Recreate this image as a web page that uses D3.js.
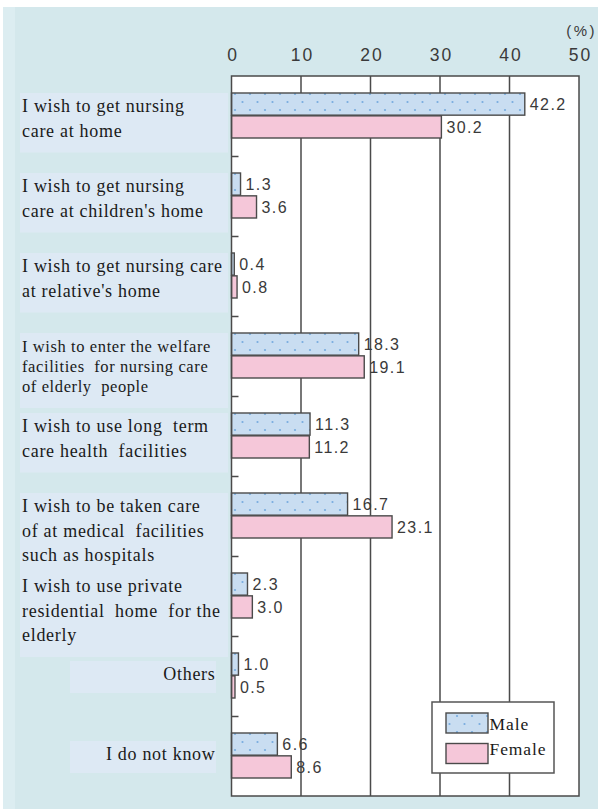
<!DOCTYPE html>
<html>
<head>
<meta charset="utf-8">
<script src="https://cdn.jsdelivr.net/npm/d3@7"></script>
<style>
  html, body { margin: 0; padding: 0; background: #ffffff; }
  svg { display: block; }
</style>
</head>
<body>
<script>
// Where people wish to receive nursing care, by sex (%)
const categories = [
  ["I wish to get nursing", "care at home"],
  ["I wish to get nursing", "care at children's home"],
  ["I wish to get nursing care", "at relative's home"],
  ["I wish to enter the welfare", "facilities  for nursing care", "of elderly  people"],
  ["I wish to use long  term", "care health  facilities"],
  ["I wish to be taken care", "of at medical  facilities", "such as hospitals"],
  ["I wish to use private", "residential  home  for the", "elderly"],
  ["Others"],
  ["I do not know"]
];
const seriesNames = ["Male", "Female"];
const maleValues = [42.2, 1.3, 0.4, 18.3, 11.3, 16.7, 2.3, 1.0, 6.6];
const femaleValues = [30.2, 3.6, 0.8, 19.1, 11.2, 23.1, 3.0, 0.5, 8.6];
const xTickValues = [0, 10, 20, 30, 40, 50];
const unitLabel = "(%)";

const W = 598, H = 809;
const plot = { left: 231.5, right: 579, top: 76, bottom: 796 };

const svg = d3.select("body").append("svg")
  .attr("width", W).attr("height", H);

const defs = svg.append("defs");
const dots = defs.append("pattern")
  .attr("id", "maleDots")
  .attr("patternUnits", "userSpaceOnUse")
  .attr("x", 0).attr("y", 0)
  .attr("width", 15).attr("height", 16);
dots.append("rect").attr("width", 15).attr("height", 16).attr("fill", "#c9ddf1");
dots.append("circle").attr("cx", 10).attr("cy", 14).attr("r", 1.1).attr("fill", "#78acdf");
dots.append("circle").attr("cx", 2.5).attr("cy", 6).attr("r", 1.1).attr("fill", "#78acdf");

const fills = { Male: "url(#maleDots)", Female: "#f5c7d9" };
const edge = "#4a4a4a";

// page background
svg.append("rect").attr("x", 3).attr("y", 7).attr("width", W - 3).attr("height", H - 7)
  .attr("fill", "#d4e8ec");
svg.append("rect").attr("x", 3).attr("y", 7).attr("width", 12).attr("height", H - 7)
  .attr("fill", "#dcedf1");

// scales
const x = d3.scaleLinear().domain([0, 50]).range([plot.left, plot.right]);
const y = d3.scaleBand().domain(d3.range(categories.length)).range([plot.top, plot.bottom]);
const sub = d3.scaleBand().domain(seriesNames).range([17, 62]).paddingInner(0.03);

// category labels with their light panels
const labelFont = "'Liberation Serif', 'Times New Roman', serif";
const labels = svg.append("g");
categories.forEach((lines, i) => {
  const single = lines.length === 1;
  const compact = lines.some(l => l.length > 26) && lines.length === 3;
  const fs = compact ? 16.5 : 18;
  const lh = compact ? 20 : 24.5;
  const band = y(i);
  const first = single ? band + 44 : band + 36;
  const g = labels.append("g");
  const panel = g.append("rect").attr("fill", "#dde9f4");
  const t = g.append("text")
    .attr("font-family", labelFont)
    .attr("font-size", fs)
    .attr("letter-spacing", compact ? 0.6 : 0.7)
    .attr("fill", "#1a1a1a")
    .style("white-space", "pre")
    .attr("text-anchor", single ? "end" : "start");
  lines.forEach((line, k) => {
    t.append("tspan").attr("x", single ? 215.5 : 22).attr("y", first + k * lh).text(line);
  });
  if (single) {
    const bb = t.node().getBBox();
    const left = Math.min(70, bb.x - 30);
    panel.attr("x", left).attr("y", first - 19)
      .attr("width", 216 - left).attr("height", 32);
  } else {
    const last = first + (lines.length - 1) * lh;
    panel.attr("x", 20).attr("y", first - 19)
      .attr("width", 208).attr("height", last + 16 - (first - 19));
  }
});

// plot area
svg.append("rect")
  .attr("x", plot.left).attr("y", plot.top)
  .attr("width", plot.right - plot.left).attr("height", plot.bottom - plot.top)
  .attr("fill", "#ffffff");

// vertical grid lines
svg.append("g").selectAll("line")
  .data(xTickValues.filter(v => v > 0 && v < 50))
  .join("line")
  .attr("x1", d => x(d)).attr("x2", d => x(d))
  .attr("y1", plot.top).attr("y2", plot.bottom)
  .attr("stroke", edge).attr("stroke-width", 1.5);

// top axis labels
const axis = svg.append("g")
  .attr("transform", `translate(0,${plot.top - 15})`)
  .call(d3.axisTop(x).tickValues(xTickValues).tickSize(0).tickPadding(0).tickFormat(d3.format("d")));
axis.select(".domain").remove();
axis.selectAll("text")
  .attr("font-family", "'Liberation Sans', Arial, sans-serif")
  .attr("font-size", 17.5)
  .attr("letter-spacing", 2)
  .attr("dx", 1)
  .attr("dy", 0)
  .attr("fill", "#3a3a3a");

svg.append("text")
  .attr("x", 597).attr("y", 36)
  .attr("text-anchor", "end")
  .attr("font-family", "'Liberation Sans', Arial, sans-serif")
  .attr("font-size", 15)
  .attr("letter-spacing", 2.5)
  .attr("fill", "#3a3a3a")
  .text(unitLabel);

// bars
const rows = [];
categories.forEach((c, i) => {
  rows.push({ i, s: "Male", v: maleValues[i] });
  rows.push({ i, s: "Female", v: femaleValues[i] });
});

svg.append("g").selectAll("rect")
  .data(rows)
  .join("rect")
  .attr("x", x(0))
  .attr("y", d => y(d.i) + sub(d.s))
  .attr("width", d => x(d.v) - x(0))
  .attr("height", sub.bandwidth())
  .attr("fill", d => fills[d.s])
  .attr("stroke", edge)
  .attr("stroke-width", 1.4);

svg.append("g").selectAll("text")
  .data(rows)
  .join("text")
  .attr("x", d => x(d.v) + 5)
  .attr("y", d => y(d.i) + sub(d.s) + sub.bandwidth() / 2 + 6)
  .attr("font-family", "'Liberation Sans', Arial, sans-serif")
  .attr("font-size", 16)
  .attr("letter-spacing", 1.4)
  .attr("fill", "#3a3a3a")
  .text(d => d.v.toFixed(1));

// plot frame and category separators
svg.append("rect")
  .attr("x", plot.left).attr("y", plot.top)
  .attr("width", plot.right - plot.left).attr("height", plot.bottom - plot.top)
  .attr("fill", "none").attr("stroke", edge).attr("stroke-width", 1.5);

svg.append("g").selectAll("line")
  .data(d3.range(1, categories.length))
  .join("line")
  .attr("x1", plot.left).attr("x2", plot.left + 7)
  .attr("y1", d => y(d) + 0.5).attr("y2", d => y(d) + 0.5)
  .attr("stroke", edge).attr("stroke-width", 1.5);

// legend
const lg = svg.append("g").attr("transform", "translate(432,702)");
lg.append("rect").attr("width", 122).attr("height", 71)
  .attr("fill", "#ffffff").attr("stroke", "#555555").attr("stroke-width", 1.5);
seriesNames.forEach((s, k) => {
  lg.append("rect")
    .attr("x", 14).attr("y", 11 + k * 30.5)
    .attr("width", 42).attr("height", 20)
    .attr("fill", fills[s]).attr("stroke", edge).attr("stroke-width", 1.4);
  lg.append("text")
    .attr("x", 57.5).attr("y", 28 + k * 25)
    .attr("font-family", labelFont)
    .attr("font-size", 17.5)
    .attr("letter-spacing", 0.9)
    .attr("fill", "#1a1a1a")
    .text(s);
});
</script>
</body>
</html>
